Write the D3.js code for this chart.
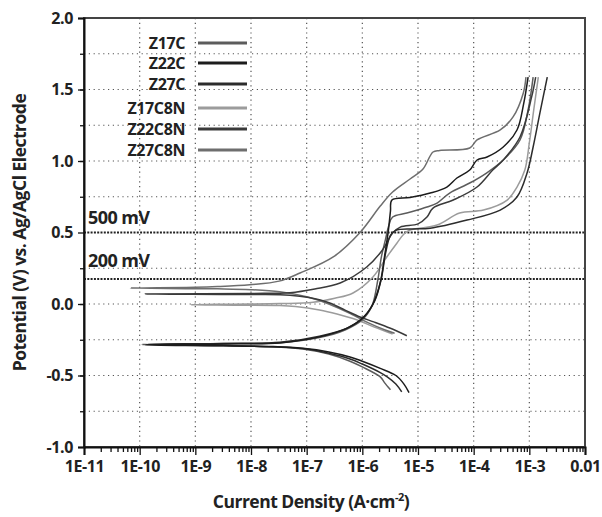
<!DOCTYPE html>
<html>
<head>
<meta charset="utf-8">
<script src="https://cdn.jsdelivr.net/npm/d3@7"></script>
<style>
body { margin: 0; background: #fff; }
text { font-family: "Open Sans", sans-serif; font-weight: 700; fill: #222; }
</style>
</head>
<body>
<svg id="chart" width="602" height="517"></svg>
<script>
// polarization curves: [current density (A/cm2), potential (V vs Ag/AgCl)]
var z17c = [[3.2e-6,-0.60],[2.5e-6,-0.55],[2.1e-6,-0.51],[1.0e-6,-0.44],[6.0e-7,-0.40],[2.5e-7,-0.35],[8.5e-8,-0.315],[2.5e-8,-0.30],[3.2e-9,-0.29],[1.1e-10,-0.283],
  [3.2e-9,-0.277],[3.3e-8,-0.271],[1.7e-7,-0.235],[5.0e-7,-0.18],[1.0e-6,-0.11],[1.5e-6,-0.01],[1.9e-6,0.17],[2.2e-6,0.33],[2.6e-6,0.45],[3.0e-6,0.55],[3.5e-6,0.608],
  [6.3e-6,0.636],[1.45e-5,0.678],[2.2e-5,0.706],[3.7e-5,0.776],[8.5e-5,0.846],[1.7e-4,0.916],[3.4e-4,1.007],[6.8e-4,1.147],[9.5e-4,1.357],[1.17e-3,1.587]];
var z22c = [[6.9e-6,-0.62],[5.6e-6,-0.56],[4.0e-6,-0.50],[2.1e-6,-0.45],[1.0e-6,-0.40],[6.0e-7,-0.37],[2.5e-7,-0.335],[8.5e-8,-0.31],[2.5e-8,-0.298],[3.2e-9,-0.292],[1.26e-10,-0.286],
  [3.2e-9,-0.279],[3.3e-8,-0.272],[1.7e-7,-0.23],[5.2e-7,-0.17],[1.0e-6,-0.10],[1.55e-6,0.0],[2.1e-6,0.15],[2.5e-6,0.33],[2.95e-6,0.52],[3.2e-6,0.65],[3.4e-6,0.727],
  [7.2e-6,0.745],[1.66e-5,0.776],[3.3e-5,0.818],[5.0e-5,0.881],[8.5e-5,0.937],[1.15e-4,1.007],[1.74e-4,1.028],[3.4e-4,1.098],[6.0e-4,1.217],[7.9e-4,1.40],[9.5e-4,1.587]];
var z27c = [[5.1e-6,-0.615],[4.0e-6,-0.56],[2.8e-6,-0.51],[2.1e-6,-0.48],[1.0e-6,-0.42],[6.0e-7,-0.385],[2.5e-7,-0.345],[8.5e-8,-0.312],[2.5e-8,-0.299],[3.2e-9,-0.29],[1.4e-10,-0.282],
  [3.2e-9,-0.276],[3.3e-8,-0.268],[1.7e-7,-0.225],[5.6e-7,-0.165],[1.07e-6,-0.09],[1.66e-6,0.02],[2.2e-6,0.18],[2.6e-6,0.35],[3.2e-6,0.48],[4.0e-6,0.515],
  [7.9e-6,0.525],[1.66e-5,0.53],[7.6e-5,0.587],[3.0e-4,0.657],[6.0e-4,0.748],[9.1e-4,0.916],[1.17e-3,1.098],[1.55e-3,1.336],[2.1e-3,1.587]];
var z17c8n = [[3.5e-6,-0.21],[1.6e-6,-0.16],[7.9e-7,-0.11],[3.5e-7,-0.07],[1.7e-7,-0.042],[6.3e-8,-0.018],[3.3e-8,-0.011],[5.0e-9,-0.008],[8.3e-10,-0.005],
  [5.0e-9,-0.001],[3.3e-8,0.003],[1.3e-7,0.012],[3.2e-7,0.04],[6.8e-7,0.077],[1.55e-6,0.189],[2.75e-6,0.329],[4.2e-6,0.427],[5.6e-6,0.49],[7.2e-6,0.517],
  [2.2e-5,0.552],[5.6e-5,0.636],[1.5e-4,0.657],[4.0e-4,0.727],[6.0e-4,0.818],[8.3e-4,0.937],[1.0e-3,1.126],[1.2e-3,1.357],[1.45e-3,1.587]];
var z22c8n = [[6.3e-6,-0.222],[3.2e-6,-0.17],[1.6e-6,-0.125],[9.1e-7,-0.091],[5.0e-7,-0.045],[2.6e-7,0.007],[1.1e-7,0.045],[5.0e-8,0.062],[1.0e-8,0.066],[1.26e-10,0.07],
  [1.0e-8,0.074],[5.0e-8,0.079],[1.4e-7,0.105],[4.0e-7,0.147],[1.2e-6,0.259],[2.3e-6,0.378],[3.5e-6,0.497],[4.8e-6,0.538],[1.0e-5,0.56],[1.45e-5,0.608],
  [1.86e-5,0.671],[4.3e-5,0.727],[1.15e-4,0.818],[2.2e-4,0.937],[3.4e-4,1.007],[6.8e-4,1.168],[1.1e-3,1.448],[1.3e-3,1.587]];
var z27c8n = [[3.8e-6,-0.205],[2.5e-6,-0.18],[1.26e-6,-0.13],[6.3e-7,-0.07],[2.5e-7,0.0],[1.0e-7,0.05],[3.3e-8,0.085],[1.0e-8,0.10],[2.5e-9,0.106],[6.8e-11,0.112],
  [1.0e-9,0.117],[2.5e-9,0.122],[9.5e-9,0.135],[3.2e-8,0.16],[7.6e-8,0.217],[3.0e-7,0.329],[9.1e-7,0.50],[2.1e-6,0.685],[3.5e-6,0.783],[7.2e-6,0.874],
  [1.23e-5,0.944],[1.86e-5,1.063],[2.45e-5,1.074],[8.5e-5,1.091],[1.15e-4,1.147],[3.0e-4,1.217],[5.1e-4,1.308],[7.8e-4,1.476],[8.7e-4,1.587]];

var names = ["Z17C", "Z22C", "Z27C", "Z17C8N", "Z22C8N", "Z27C8N"];
var curves = [z17c, z22c, z27c, z17c8n, z22c8n, z27c8n];
var colors = ["#5c5c5c", "#1c1c1c", "#2c2c2c", "#9c9c9c", "#3a3a3a", "#6e6e6e"];

var xTicks = [1e-11, 1e-10, 1e-9, 1e-8, 1e-7, 1e-6, 1e-5, 1e-4, 1e-3, 1e-2];
var xTickLabels = ["1E-11", "1E-10", "1E-9", "1E-8", "1E-7", "1E-6", "1E-5", "1E-4", "1E-3", "0.01"];
var yTicks = [-1, -0.5, 0, 0.5, 1, 1.5, 2];
var yTickLabels = ["-1.0", "-0.5", "0.0", "0.5", "1.0", "1.5", "2.0"];
var yGrid = [-0.75, -0.5, -0.25, 0, 0.25, 0.75, 1, 1.25, 1.5, 1.75];

var refLines = [0.5, 0.175];     // where the dotted lines are drawn
var refLabelAt = [0.5, 0.2];
var refLabels = ["500 mV", "200 mV"];

var plotL = 84, plotR = 585, plotT = 18, plotB = 447;
var svg = d3.select("#chart");

var x = d3.scaleLog().domain([1e-11, 1e-2]).range([plotL, plotR]);
var y = d3.scaleLinear().domain([-1, 2]).range([plotB, plotT]);

// dotted grid
svg.append("g").selectAll("line")
    .data(xTicks.slice(1, -1))
    .enter().append("line")
    .attr("x1", d => x(d)).attr("x2", d => x(d))
    .attr("y1", plotT).attr("y2", plotB)
    .attr("stroke", "#555").attr("stroke-width", 1.2).attr("stroke-dasharray", "1.2,3.6");
svg.append("g").selectAll("line")
    .data(yGrid)
    .enter().append("line")
    .attr("x1", plotL).attr("x2", plotR)
    .attr("y1", d => y(d)).attr("y2", d => y(d))
    .attr("stroke", "#555").attr("stroke-width", 1.2).attr("stroke-dasharray", "1.2,3.6");

// reference potentials
svg.append("g").selectAll("line")
    .data(refLines)
    .enter().append("line")
    .attr("x1", plotL).attr("x2", plotR)
    .attr("y1", d => y(d)).attr("y2", d => y(d))
    .attr("stroke", "#222").attr("stroke-width", 2).attr("stroke-dasharray", "2,1.3");
svg.append("g").selectAll("text")
    .data(refLabels)
    .enter().append("text")
    .attr("x", 88)
    .attr("y", (d, i) => y(refLabelAt[i]) - 8.5)
    .attr("font-size", 18)
    .attr("letter-spacing", -0.6)
    .text(d => d);

// curves
var line = d3.line()
    .x(d => x(d[0]))
    .y(d => y(d[1]))
    .curve(d3.curveCatmullRom.alpha(0.5));

var order = [3, 5, 0, 4, 2, 1];
svg.append("g").selectAll("path")
    .data(order)
    .enter().append("path")
    .attr("d", i => line(curves[i]))
    .attr("fill", "none")
    .attr("stroke", i => colors[i])
    .attr("stroke-width", 1.5)
    .attr("stroke-linejoin", "round");

// frame
svg.append("rect")
    .attr("x", plotL).attr("y", plotT)
    .attr("width", plotR - plotL).attr("height", plotB - plotT)
    .attr("fill", "none").attr("stroke", "#444").attr("stroke-width", 2);

// axes
var minor = [];
xTicks.slice(0, -1).forEach(function(d) {
    for (var k = 2; k <= 9; k++) minor.push(d * k);
});
svg.append("g").attr("transform", "translate(0," + plotB + ")")
    .call(d3.axisBottom(x).tickValues(xTicks).tickSize(8).tickPadding(6)
        .tickFormat((d, i) => xTickLabels[i]));
svg.append("g").attr("transform", "translate(0," + plotB + ")")
    .call(d3.axisBottom(x).tickValues(minor).tickSize(5).tickFormat(""))
    .select(".domain").remove();

svg.append("g").attr("transform", "translate(" + plotL + ",0)")
    .call(d3.axisLeft(y).tickValues(yTicks).tickSize(6).tickPadding(5)
        .tickFormat((d, i) => yTickLabels[i]));
svg.append("g").attr("transform", "translate(" + plotL + ",0)")
    .call(d3.axisLeft(y).tickValues(yGrid).tickSize(4).tickFormat(""))
    .select(".domain").remove();

svg.selectAll(".domain").attr("stroke", "#111").attr("stroke-width", 2);
svg.selectAll(".tick line").attr("stroke", "#111").attr("stroke-width", 1.3);
svg.selectAll(".tick text")
    .attr("font-family", "Open Sans, sans-serif")
    .attr("font-weight", 700)
    .attr("font-size", 16)
    .attr("letter-spacing", -0.4)
    .attr("fill", "#222");

// axis titles
svg.append("text")
    .attr("x", 311).attr("y", 508)
    .attr("text-anchor", "middle")
    .attr("font-size", 17.5)
    .attr("letter-spacing", -0.5)
    .html('Current Density (A\u00b7cm<tspan dy="-7" font-size="11">-2</tspan><tspan dy="7">)</tspan>');

svg.append("text")
    .attr("transform", "translate(26," + ((plotT + plotB) / 2) + ") rotate(-90)")
    .attr("text-anchor", "middle")
    .attr("font-size", 17.5)
    .attr("letter-spacing", -0.5)
    .text("Potential (V) vs. Ag/AgCl Electrode");

// legend
var legendY = [43, 63, 84, 108, 129, 150];
var legend = svg.append("g").selectAll("g")
    .data(names)
    .enter().append("g");
legend.append("text")
    .attr("x", 185).attr("y", (d, i) => legendY[i] + 6)
    .attr("text-anchor", "end")
    .attr("font-size", 16)
    .attr("letter-spacing", -0.4)
    .text(d => d);
legend.append("line")
    .attr("x1", 198).attr("x2", 247)
    .attr("y1", (d, i) => legendY[i]).attr("y2", (d, i) => legendY[i])
    .attr("stroke", (d, i) => colors[i])
    .attr("stroke-width", 3);
</script>
</body>
</html>
